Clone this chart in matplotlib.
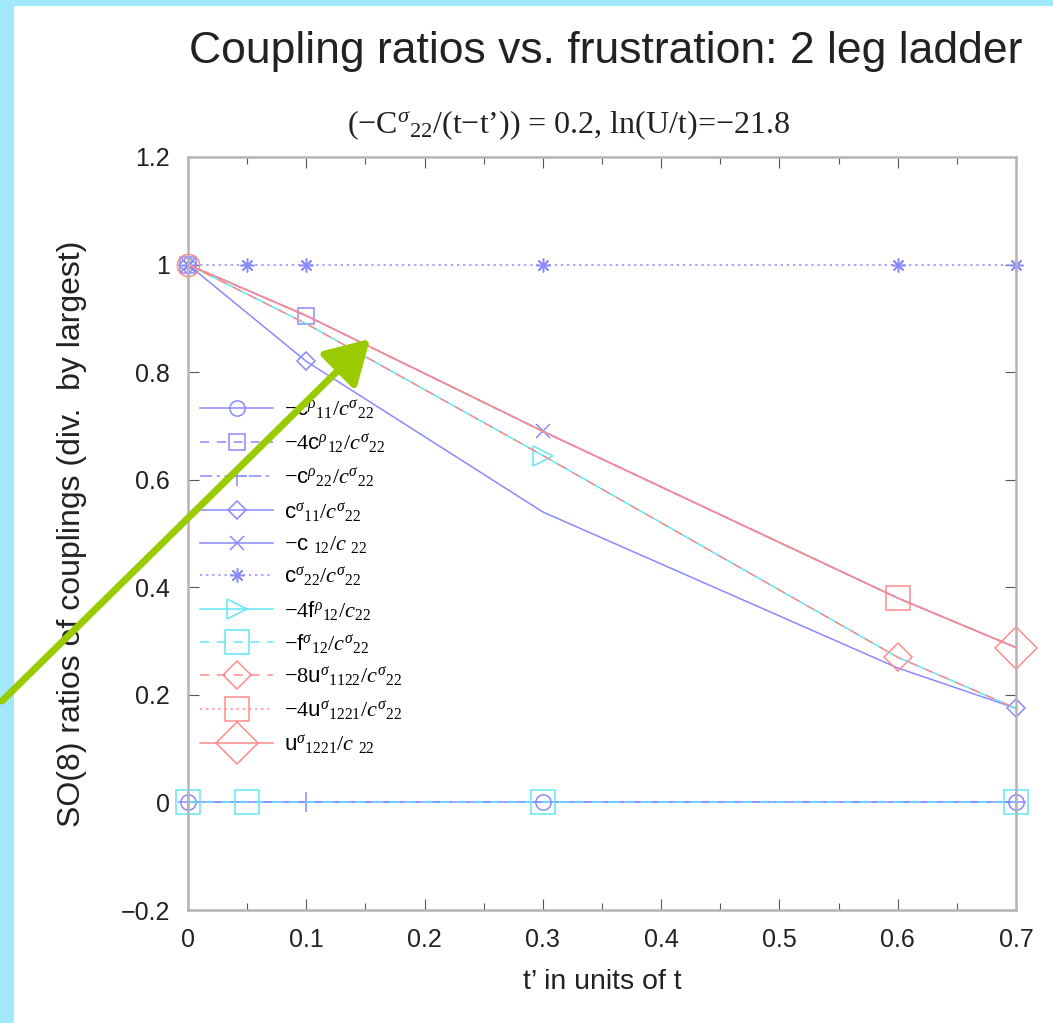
import matplotlib
matplotlib.use("Agg")
import matplotlib.pyplot as plt
from matplotlib.patches import Rectangle, FancyArrowPatch
import numpy as np

plt.rcParams["mathtext.fontset"] = "custom"
plt.rcParams["mathtext.rm"] = "Liberation Serif"
plt.rcParams["mathtext.it"] = "Liberation Serif:italic"
plt.rcParams["mathtext.sf"] = "Liberation Sans"

# ---------------- data ----------------
x5 = [0, 0.1, 0.3, 0.6, 0.7]
x6 = [0, 0.05, 0.1, 0.3, 0.6, 0.7]
x_f = [0, 0.05, 0.3, 0.7]

top_line = [1.0, 0.905, 0.69, 0.38, 0.288]
mid_line = [1.0, 0.89, 0.645, 0.27, 0.175]
low_line = [1.0, 0.82, 0.54, 0.25, 0.175]
zero5 = [0, 0, 0, 0, 0]
ones6 = [1, 1, 1, 1, 1, 1]
zero_f = [0, 0, 0, 0]

labels = [
    r"$-\mathsf{c}^{\rho}{}_{11}/c^{\sigma}{}_{22}$",
    r"$-4\mathsf{c}^{\rho}{}_{12}/c^{\sigma}{}_{22}$",
    r"$-\mathsf{c}^{\rho}{}_{22}/c^{\sigma}{}_{22}$",
    r"$\mathsf{c}^{\sigma}{}_{11}/c^{\sigma}{}_{22}$",
    r"$-\mathsf{c}\ {}_{12}/c\ {}_{22}$",
    r"$\mathsf{c}^{\sigma}{}_{22}/c^{\sigma}{}_{22}$",
    r"$-4\mathsf{f}^{\rho}{}_{12}/c{}_{22}$",
    r"$-\mathsf{f}^{\sigma}{}_{12}/c^{\sigma}{}_{22}$",
    r"$-8\mathsf{u}^{\sigma}{}_{1122}/c^{\sigma}{}_{22}$",
    r"$-4\mathsf{u}^{\sigma}{}_{1221}/c^{\sigma}{}_{22}$",
    r"$\mathsf{u}^{\sigma}{}_{1221}/c\ {}_{22}$",
]

title = "Coupling ratios vs. frustration: 2 leg ladder"
subtitle = r"(−C$^{\sigma}$$_{22}$/(t−t’)) = 0.2, ln(U/t)=−21.8"
xlabel = "t’ in units of t"
ylabel = "SO(8) ratios of couplings (div.  by largest)"
xticks = [0, 0.1, 0.2, 0.3, 0.4, 0.5, 0.6, 0.7]
xticklabels = ["0", "0.1", "0.2", "0.3", "0.4", "0.5", "0.6", "0.7"]
yticks = [-0.2, 0, 0.2, 0.4, 0.6, 0.8, 1.0, 1.2]
yticklabels = ["−0.2", "0", "0.2", "0.4", "0.6", "0.8", "1", "1.2"]

# ---------------- figure ----------------
W, H = 1053, 1023
fig = plt.figure(figsize=(W / 100, H / 100), dpi=100)
fig.patch.set_facecolor("#A2E8FC")
fig.patches.append(Rectangle((14 / W, 0), 1, (H - 6) / H, transform=fig.transFigure,
                             facecolor="white", edgecolor="none", zorder=-10))

ax = fig.add_axes([188 / W, 113 / H, (1016 - 188) / W, (910 - 157) / H])
ax.set_facecolor("white")

blue = "#8A8AFF"
cyan = "#5FE8F5"
red = "#FF8C8C"

ms_small = 11
series = [
    # x, y, color, linestyle, marker, ms, markevery
    (x5, zero5, blue, "-", "o", ms_small, [0, 2, 4]),
    (x5, top_line, blue, (0, (6, 5)), "s", ms_small, [0, 1]),
    (x5, zero5, blue, (0, (8, 3, 2, 3)), "+", 14, [0, 1, 4]),
    (x5, low_line, blue, "-", "D", 9, [0, 1, 4]),
    (x5, top_line, blue, "-", "x", 10, [0, 2]),
    (x6, ones6, blue, (0, (1.5, 2.5)), (8, 2, 0), 10, None),
    (x5, mid_line, cyan, "-", ">", 15, [2]),
    (x_f, zero_f, cyan, (0, (6, 5)), "s", 17, None),
    (x5, mid_line, red, (0, (6, 5)), "D", 14, [3]),
    (x5, top_line, red, (0, (1.5, 2.5)), "s", 17, [3]),
    (x5, top_line, red, "-", "D", 21, [4]),
]

handles = []
for (xs, ys, c, ls, mk, ms, me), lab in zip(series, labels):
    h, = ax.plot(xs, ys, color=c, linestyle=ls, linewidth=1.1, marker=mk,
                 markersize=ms, markerfacecolor="none", markeredgecolor=c,
                 markeredgewidth=1.1, markevery=me, label=lab, clip_on=False)
    handles.append(h)

# small red circle-ish markers clustered at the origin point (0, 1)
ax.plot([0], [1.0], linestyle="none", marker="o", markersize=16, markerfacecolor="none",
        markeredgecolor=red, markeredgewidth=1.1, clip_on=False)

ax.set_xlim(0, 0.7)
ax.set_ylim(-0.2, 1.2)
ax.set_xticks(xticks)
ax.set_xticklabels(xticklabels)
ax.set_xticks(np.arange(0.05, 0.7, 0.1), minor=True)
ax.set_yticks(yticks)
ax.set_yticklabels(yticklabels)

frame_c = "#B4B4B4"
for s in ax.spines.values():
    s.set_color(frame_c)
    s.set_linewidth(1.8)
ax.tick_params(which="both", direction="in", top=True, right=True, color="#555555",
               labelsize=18, pad=13, width=0.8)
ax.tick_params(which="major", length=8)
ax.tick_params(which="minor", length=5)
for lab in ax.get_xticklabels() + ax.get_yticklabels():
    lab.set_fontfamily("Liberation Sans")
    lab.set_color("#222222")

ax.set_xlabel(xlabel, fontsize=20.5, family="Liberation Sans", labelpad=12, color="#222222")
ax.set_ylabel(ylabel, fontsize=23, family="Liberation Sans", labelpad=24, color="#222222")

fig.text(606 / W, 1 - 52 / H, title, ha="center", va="center", fontsize=32,
         family="Liberation Sans", color="#222222")
fig.text(568 / W, 1 - 125 / H, subtitle, ha="center", va="center", fontsize=23,
         family="Liberation Serif", color="#222222")

leg = ax.legend(handles=handles, loc="upper left",
                bbox_to_anchor=(200 / W, 1 - 398 / H), bbox_transform=fig.transFigure,
                frameon=False, fontsize=16, handlelength=3.3, handletextpad=0.5,
                labelspacing=0.44, borderaxespad=0, borderpad=0)

# green arrow annotation
arrow = FancyArrowPatch((0 / W, 1 - 703 / H), (372 / W, 1 - 337 / H),
                        transform=fig.transFigure, arrowstyle="-|>,head_length=12,head_width=7",
                        color="#99CC00", linewidth=5, mutation_scale=2.2, zorder=10)
fig.patches.append(arrow)

fig.savefig("out.png", dpi=100, facecolor=fig.get_facecolor())
